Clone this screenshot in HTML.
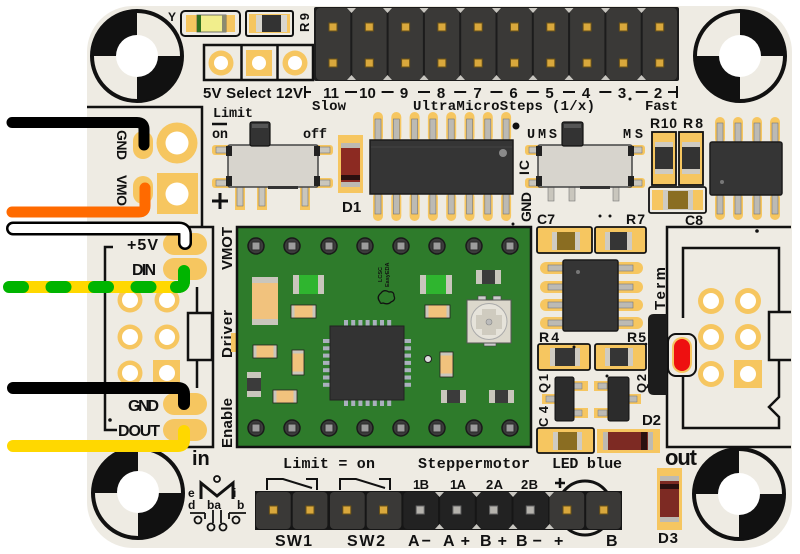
<!DOCTYPE html>
<html><head><meta charset="utf-8">
<style>
html,body{margin:0;padding:0;background:#fff;}
svg{display:block;}
.m{font-family:"Liberation Mono",monospace;font-weight:bold;fill:#111;}
.s{font-family:"Liberation Sans",sans-serif;font-weight:bold;fill:#111;}
</style></head><body>
<svg width="800" height="554" viewBox="0 0 800 554" xmlns="http://www.w3.org/2000/svg">
<rect width="800" height="554" fill="#fff"/>
<rect x="87" y="6" width="705" height="542" rx="46" fill="#eeebe3"/>

<!-- mounting holes -->
<circle cx="137" cy="56" r="45" fill="#eeebe3" stroke="#111" stroke-width="4"/>
<path d="M137 56H92A45 45 0 0 1 137 11Z" fill="#111"/>
<path d="M137 56H182A45 45 0 0 1 137 101Z" fill="#111"/>
<circle cx="137" cy="56" r="21" fill="#fff"/>

<circle cx="740" cy="56" r="45" fill="#eeebe3" stroke="#111" stroke-width="4"/>
<path d="M740 56V11A45 45 0 0 1 785 56Z" fill="#111"/>
<path d="M740 56V101A45 45 0 0 1 695 56Z" fill="#111"/>
<circle cx="740" cy="56" r="21" fill="#fff"/>

<circle cx="138" cy="493" r="45" fill="#eeebe3" stroke="#111" stroke-width="4"/>
<path d="M138 493H93A45 45 0 0 1 138 448Z" fill="#111"/>
<path d="M138 493H183A45 45 0 0 1 138 538Z" fill="#111"/>
<circle cx="138" cy="492" r="21" fill="#fff"/>

<circle cx="739" cy="494" r="45" fill="#eeebe3" stroke="#111" stroke-width="4"/>
<path d="M739 494H694A45 45 0 0 1 739 449Z" fill="#111"/>
<path d="M739 494H784A45 45 0 0 1 739 539Z" fill="#111"/>
<circle cx="739" cy="494" r="21" fill="#fff"/>

<!-- Y LED -->
<text class="s" x="168" y="21" font-size="12">Y</text>
<rect x="181" y="11" width="59" height="25" rx="4" fill="none" stroke="#111" stroke-width="2"/>
<rect x="186" y="15" width="49" height="17" fill="#f6c660"/>
<rect x="197" y="15" width="29" height="17" fill="#f1ee8c" stroke="#555" stroke-width="0.8"/>
<rect x="197" y="15" width="4" height="17" fill="#2f6f1f"/>
<rect x="222" y="15" width="4" height="17" fill="#8a8a70"/>
<!-- R9 -->
<rect x="246" y="11" width="47" height="25" rx="2" fill="none" stroke="#111" stroke-width="2"/>
<rect x="249" y="14" width="41" height="19" fill="#f6c660"/>
<rect x="256" y="15" width="31" height="17" fill="#d9d6ce"/>
<rect x="262" y="15" width="19" height="17" fill="#333"/>
<text class="s" font-size="13" textLength="19" transform="translate(309,32) rotate(-90)">R9</text>

<!-- 5V/12V jumper -->
<rect x="204" y="45" width="109" height="35" fill="none" stroke="#111" stroke-width="2.5"/>
<line x1="241.5" y1="45" x2="241.5" y2="80" stroke="#111" stroke-width="2.5"/>
<line x1="277.5" y1="45" x2="277.5" y2="80" stroke="#111" stroke-width="2.5"/>
<circle cx="221" cy="63" r="12.5" fill="#f6c660"/><circle cx="221" cy="63" r="7" fill="#fff"/>
<rect x="246" y="50" width="26" height="26" fill="#f6c660"/><circle cx="259" cy="63" r="7" fill="#fff"/>
<circle cx="295" cy="63" r="12.5" fill="#f6c660"/><circle cx="295" cy="63" r="7" fill="#fff"/>
<text class="s" x="203" y="98" font-size="15" textLength="100">5V Select 12V</text>

<!-- top header -->
<rect x="314" y="7" width="365" height="74" rx="2" fill="#1c1c1c"/>
<g fill="#3a3937">
<rect x="316" y="8" width="34.3" height="72" rx="4"/>
<rect x="352.3" y="8" width="34.3" height="72" rx="4"/>
<rect x="388.6" y="8" width="34.3" height="72" rx="4"/>
<rect x="424.9" y="8" width="34.3" height="72" rx="4"/>
<rect x="461.2" y="8" width="34.3" height="72" rx="4"/>
<rect x="497.5" y="8" width="34.3" height="72" rx="4"/>
<rect x="533.8" y="8" width="34.3" height="72" rx="4"/>
<rect x="570.1" y="8" width="34.3" height="72" rx="4"/>
<rect x="606.4" y="8" width="34.3" height="72" rx="4"/>
<rect x="642.7" y="8" width="34.3" height="72" rx="4"/>
</g>
<g fill="#c8c6c0">
<path d="M347 8h9l-4.5 5z M383 8h9l-4.5 5z M419.5 8h9l-4.5 5z M456 8h9l-4.5 5z M492 8h9l-4.5 5z M528.5 8h9l-4.5 5z M564.5 8h9l-4.5 5z M601 8h9l-4.5 5z M637 8h9l-4.5 5z"/>
<path d="M347 80h9l-4.5 -5z M383 80h9l-4.5 -5z M419.5 80h9l-4.5 -5z M456 80h9l-4.5 -5z M492 80h9l-4.5 -5z M528.5 80h9l-4.5 -5z M564.5 80h9l-4.5 -5z M601 80h9l-4.5 -5z M637 80h9l-4.5 -5z"/>
</g>
<g fill="#d9a83c" stroke="#6b5217" stroke-width="1">
<rect x="329" y="23" width="8" height="8"/><rect x="329" y="59" width="8" height="8"/>
<rect x="365.3" y="23" width="8" height="8"/><rect x="365.3" y="59" width="8" height="8"/>
<rect x="401.6" y="23" width="8" height="8"/><rect x="401.6" y="59" width="8" height="8"/>
<rect x="437.9" y="23" width="8" height="8"/><rect x="437.9" y="59" width="8" height="8"/>
<rect x="474.2" y="23" width="8" height="8"/><rect x="474.2" y="59" width="8" height="8"/>
<rect x="510.5" y="23" width="8" height="8"/><rect x="510.5" y="59" width="8" height="8"/>
<rect x="546.8" y="23" width="8" height="8"/><rect x="546.8" y="59" width="8" height="8"/>
<rect x="583.1" y="23" width="8" height="8"/><rect x="583.1" y="59" width="8" height="8"/>
<rect x="619.4" y="23" width="8" height="8"/><rect x="619.4" y="59" width="8" height="8"/>
<rect x="655.7" y="23" width="8" height="8"/><rect x="655.7" y="59" width="8" height="8"/>
</g>
<!-- step scale -->
<path d="M305 86V98M305 92H311 M345 92H357 M381.6 92H393.6 M418 92H430 M454.2 92H466.2 M490.5 92H502.5 M526.8 92H538.8 M563 92H575 M599.4 92H611.4 M635.7 92H647.7 M668 92H676M677 86V98" stroke="#111" stroke-width="2" fill="none"/>
<g class="s" font-size="15" text-anchor="middle">
<text x="331" y="98">11</text><text x="367.5" y="98">10</text><text x="404" y="98">9</text>
<text x="441" y="98">8</text><text x="477.5" y="98">7</text><text x="513.5" y="98">6</text>
<text x="549.5" y="98">5</text><text x="586" y="98">4</text><text x="622" y="98">3</text><text x="658" y="98">2</text>
</g>
<circle cx="630" cy="99" r="1.5" fill="#111"/>
<text class="m" x="312" y="110" font-size="14" textLength="34">Slow</text>
<text class="m" x="413" y="110" font-size="14" textLength="182">UltraMicroSteps (1/x)</text>
<text class="m" x="645" y="110" font-size="14" textLength="33">Fast</text>

<!-- left connector boxes -->
<path d="M87 107H202V226" stroke="#111" stroke-width="2.5" fill="none"/>
<path d="M87 227H213V447H87" stroke="#111" stroke-width="2.5" fill="none"/>
<rect x="133" y="131" width="20" height="28" rx="10" fill="#f6c660"/>
<rect x="133" y="176" width="20" height="28" rx="10" fill="#f6c660"/>
<circle cx="177" cy="143" r="20.5" fill="#f6c660"/><circle cx="177" cy="143" r="11.5" fill="#fff"/>
<rect x="157" y="173" width="41" height="41" fill="#f6c660"/><circle cx="177" cy="194" r="11.5" fill="#fff"/>
<text class="s" font-size="14" textLength="30" transform="translate(117,130) rotate(90)">GND</text>
<text class="s" font-size="14" textLength="31" transform="translate(117,175) rotate(90)">VMO</text>

<path d="M113 247H105V430H117" stroke="#111" stroke-width="2.5" fill="none"/>
<circle cx="110" cy="420" r="1.8" fill="#111"/>
<rect x="163" y="233" width="44" height="22" rx="11" fill="#f6c660"/>
<rect x="163" y="258" width="44" height="22" rx="11" fill="#f6c660"/>
<rect x="163" y="393" width="44" height="22" rx="11" fill="#f6c660"/>
<rect x="163" y="419" width="44" height="22" rx="11" fill="#f6c660"/>
<g fill="#f6c660">
<circle cx="130" cy="300" r="12.5"/><circle cx="167" cy="300" r="12.5"/>
<circle cx="130" cy="337" r="12.5"/><circle cx="167" cy="337" r="12.5"/>
<circle cx="130" cy="373" r="12.5"/><rect x="153" y="360" width="27" height="27"/>
</g>
<g fill="#fff">
<circle cx="130" cy="300" r="8"/><circle cx="167" cy="300" r="8"/>
<circle cx="130" cy="337" r="8"/><circle cx="167" cy="337" r="8"/>
<circle cx="130" cy="373" r="8"/><circle cx="167" cy="373" r="8"/>
</g>
<path d="M197 287V313M197 360V388" stroke="#111" stroke-width="2.5"/>
<rect x="188" y="313" width="24" height="47" fill="none" stroke="#111" stroke-width="2.5"/>
<text class="s" x="127" y="250" font-size="16" textLength="31">+5V</text>
<text class="s" x="132" y="275" font-size="16" textLength="24">DIN</text>
<text class="s" x="128" y="411" font-size="16" textLength="31">GND</text>
<text class="s" x="118" y="436" font-size="16" textLength="42">DOUT</text>
<text class="s" x="192" y="465" font-size="20">in</text>
<text class="s" font-size="15" textLength="43" transform="translate(232,270) rotate(-90)">VMOT</text>
<text class="s" font-size="15" textLength="48" transform="translate(232,358) rotate(-90)">Driver</text>
<text class="s" font-size="15" textLength="50" transform="translate(232,448) rotate(-90)">Enable</text>
<rect x="231" y="333" width="5" height="19" fill="#f6c660"/>

<!-- Limit switch -->
<text class="m" x="213" y="117" font-size="13.5" textLength="40">Limit</text>
<line x1="212" y1="124" x2="227" y2="124" stroke="#111" stroke-width="2.5"/>
<text class="m" x="212" y="138" font-size="13.5" textLength="16">on</text>
<text class="m" x="303" y="138" font-size="13.5" textLength="24">off</text>
<path d="M212 201H228M220 193V209" stroke="#111" stroke-width="3"/>
<g fill="#f6c660">
<rect x="212" y="145" width="20" height="10" rx="3"/><rect x="212" y="178" width="20" height="10" rx="3"/>
<rect x="313" y="145" width="20" height="10" rx="3"/><rect x="313" y="178" width="20" height="10" rx="3"/>
<rect x="235" y="185" width="10" height="25"/><rect x="257" y="185" width="10" height="25"/><rect x="300" y="185" width="10" height="25"/>
</g>
<g fill="#c9c6bd" stroke="#777" stroke-width="0.6">
<rect x="237" y="186" width="6" height="20"/><rect x="259" y="186" width="6" height="20"/><rect x="302" y="186" width="6" height="20"/>
<rect x="216" y="147" width="12" height="6"/><rect x="216" y="180" width="12" height="6"/>
<rect x="318" y="147" width="12" height="6"/><rect x="318" y="180" width="12" height="6"/>
</g>
<rect x="228" y="145" width="90" height="42" rx="2" fill="#d7d4cd" stroke="#444" stroke-width="1.5"/>
<rect x="268" y="186" width="30" height="3" fill="#333"/>
<g fill="#222">
<rect x="226" y="146" width="6" height="10"/><rect x="226" y="176" width="6" height="10"/>
<rect x="314" y="146" width="6" height="10"/><rect x="314" y="176" width="6" height="10"/>
</g>
<rect x="250" y="122" width="20" height="24" rx="2" fill="#333" stroke="#111" stroke-width="1.2"/>
<rect x="252" y="124" width="16" height="4" fill="#555"/>

<!-- D1 -->
<rect x="338" y="135" width="25" height="58" fill="#f6c660"/>
<rect x="341" y="143" width="19" height="44" rx="2" fill="#8c2a22"/>
<rect x="341" y="143" width="19" height="5" fill="#bdbab2"/>
<rect x="341" y="182" width="19" height="5" fill="#bdbab2"/>
<rect x="341" y="175" width="19" height="5" fill="#2a1010"/>
<text class="s" x="342" y="212" font-size="15">D1</text>

<!-- IC SOIC-16 -->
<g fill="#f6c660">
<rect x="373" y="112" width="10" height="30" rx="5"/><rect x="391.3" y="112" width="10" height="30" rx="5"/>
<rect x="409.6" y="112" width="10" height="30" rx="5"/><rect x="427.9" y="112" width="10" height="30" rx="5"/>
<rect x="446.2" y="112" width="10" height="30" rx="5"/><rect x="464.5" y="112" width="10" height="30" rx="5"/>
<rect x="482.8" y="112" width="10" height="30" rx="5"/><rect x="501.1" y="112" width="10" height="30" rx="5"/>
<rect x="373" y="192" width="10" height="29" rx="5"/><rect x="391.3" y="192" width="10" height="29" rx="5"/>
<rect x="409.6" y="192" width="10" height="29" rx="5"/><rect x="427.9" y="192" width="10" height="29" rx="5"/>
<rect x="446.2" y="192" width="10" height="29" rx="5"/><rect x="464.5" y="192" width="10" height="29" rx="5"/>
<rect x="482.8" y="192" width="10" height="29" rx="5"/><rect x="501.1" y="192" width="10" height="29" rx="5"/>
</g>
<g fill="#bcbab4" stroke="#777" stroke-width="0.6">
<rect x="375" y="119" width="6" height="21"/><rect x="393.3" y="119" width="6" height="21"/>
<rect x="411.6" y="119" width="6" height="21"/><rect x="429.9" y="119" width="6" height="21"/>
<rect x="448.2" y="119" width="6" height="21"/><rect x="466.5" y="119" width="6" height="21"/>
<rect x="484.8" y="119" width="6" height="21"/><rect x="503.1" y="119" width="6" height="21"/>
<rect x="375" y="194" width="6" height="20"/><rect x="393.3" y="194" width="6" height="20"/>
<rect x="411.6" y="194" width="6" height="20"/><rect x="429.9" y="194" width="6" height="20"/>
<rect x="448.2" y="194" width="6" height="20"/><rect x="466.5" y="194" width="6" height="20"/>
<rect x="484.8" y="194" width="6" height="20"/><rect x="503.1" y="194" width="6" height="20"/>
</g>
<rect x="370" y="140" width="143" height="54" fill="#353535" stroke="#1b1b1b" stroke-width="1.5"/>
<line x1="371" y1="147" x2="512" y2="147" stroke="#444" stroke-width="1"/>
<circle cx="503" cy="153" r="4" fill="#8a8a8a"/>
<circle cx="516" cy="126" r="3.5" fill="#111"/>
<circle cx="513" cy="224" r="1.5" fill="#111"/>
<text class="s" font-size="14" textLength="15" transform="translate(529,175) rotate(-90)">IC</text>
<text class="s" font-size="14" textLength="30" transform="translate(531,222) rotate(-90)">GND</text>

<!-- UMS switch -->
<text class="m" x="527" y="138" font-size="13.5" textLength="30">UMS</text>
<text class="m" x="623" y="138" font-size="13.5" textLength="20">MS</text>
<g fill="#f6c660">
<rect x="525" y="145" width="20" height="10" rx="3"/><rect x="525" y="178" width="20" height="10" rx="3"/>
<rect x="626" y="145" width="19" height="10" rx="3"/><rect x="626" y="178" width="19" height="10" rx="3"/>
</g>
<g fill="#c9c6bd" stroke="#777" stroke-width="0.6">
<rect x="548" y="186" width="6" height="15"/><rect x="569" y="186" width="6" height="15"/><rect x="613" y="186" width="6" height="15"/>
<rect x="529" y="147" width="12" height="6"/><rect x="529" y="180" width="12" height="6"/>
<rect x="630" y="147" width="12" height="6"/><rect x="630" y="180" width="12" height="6"/>
</g>
<rect x="538" y="145" width="94" height="42" rx="2" fill="#d7d4cd" stroke="#444" stroke-width="1.5"/>
<rect x="580" y="186" width="30" height="3" fill="#333"/>
<g fill="#222">
<rect x="536" y="146" width="6" height="10"/><rect x="536" y="176" width="6" height="10"/>
<rect x="628" y="146" width="6" height="10"/><rect x="628" y="176" width="6" height="10"/>
</g>
<rect x="562" y="122" width="21" height="24" rx="2" fill="#333" stroke="#111" stroke-width="1.2"/>
<rect x="564" y="124" width="17" height="4" fill="#555"/>

<!-- R10 R8 C8 -->
<text class="s" x="650" y="128" font-size="14" textLength="27">R10</text>
<text class="s" x="683" y="128" font-size="14" textLength="20">R8</text>
<rect x="652" y="132" width="24" height="53" fill="#f6c660" stroke="#111" stroke-width="1.8"/>
<rect x="679" y="132" width="24" height="53" fill="#f6c660" stroke="#111" stroke-width="1.8"/>
<rect x="655" y="142" width="18" height="32" fill="#cfcbc2"/><rect x="655" y="147" width="18" height="22" fill="#333"/>
<rect x="682" y="142" width="18" height="32" fill="#cfcbc2"/><rect x="682" y="147" width="18" height="22" fill="#333"/>
<rect x="649" y="187" width="57" height="26" rx="2" fill="#eeebe3" stroke="#111" stroke-width="1.8"/>
<rect x="652" y="190" width="51" height="20" fill="#f6c660"/>
<rect x="663" y="190" width="30" height="20" fill="#cfcbc2"/><rect x="668" y="191" width="20" height="18" fill="#8a6d22"/>
<text class="s" x="685" y="225" font-size="14" textLength="18">C8</text>

<!-- right SOIC-8 -->
<g fill="#f6c660">
<rect x="715" y="117" width="10" height="27" rx="5"/><rect x="733" y="117" width="10" height="27" rx="5"/>
<rect x="752" y="117" width="10" height="27" rx="5"/><rect x="770" y="117" width="10" height="27" rx="5"/>
<rect x="715" y="193" width="10" height="27" rx="5"/><rect x="733" y="193" width="10" height="27" rx="5"/>
<rect x="752" y="193" width="10" height="27" rx="5"/><rect x="770" y="193" width="10" height="27" rx="5"/>
</g>
<g fill="#bcbab4" stroke="#777" stroke-width="0.6">
<rect x="717" y="123" width="6" height="19"/><rect x="735" y="123" width="6" height="19"/>
<rect x="754" y="123" width="6" height="19"/><rect x="772" y="123" width="6" height="19"/>
<rect x="717" y="195" width="6" height="19"/><rect x="735" y="195" width="6" height="19"/>
<rect x="754" y="195" width="6" height="19"/><rect x="772" y="195" width="6" height="19"/>
</g>
<rect x="710" y="142" width="72" height="53" rx="2" fill="#353535" stroke="#1b1b1b" stroke-width="1.5"/>
<circle cx="722" cy="182" r="2" fill="#777"/>

<!-- wires -->
<path d="M12 122.5H137Q144 122.5 144 129.5V145" stroke="#000" stroke-width="11" fill="none" stroke-linecap="round"/>
<path d="M12 212H139Q145 212 145 206V188" stroke="#ff6a00" stroke-width="11" fill="none" stroke-linecap="round"/>
<path d="M13 228.5H179Q185 228.5 185 234.5V243" stroke="#000" stroke-width="14" fill="none" stroke-linecap="round"/>
<path d="M13 228.5H179Q185 228.5 185 234.5V243" stroke="#fff" stroke-width="9" fill="none" stroke-linecap="round"/>
<path d="M13 287H178Q184 287 184 281V271" stroke="#ffd800" stroke-width="12" fill="none" stroke-linecap="round"/>
<path d="M9 287H178Q184 287 184 281V271" stroke="#00b400" stroke-width="12" fill="none" stroke-linecap="round" stroke-dasharray="14 28.5"/>
<path d="M176 287H178Q184 287 184 281V271" stroke="#00b400" stroke-width="12" fill="none" stroke-linecap="round"/>
<path d="M13 388H178Q184 388 184 394V404" stroke="#000" stroke-width="12" fill="none" stroke-linecap="round"/>
<path d="M13 446H178Q184 446 184 440V431" stroke="#ffd800" stroke-width="12" fill="none" stroke-linecap="round"/>

<!-- green driver board -->
<rect x="237" y="227" width="294" height="220" fill="#2e7b2b" stroke="#111" stroke-width="2.5"/>
<g>
<g fill="#3c3c3c" stroke="#1a1a1a" stroke-width="1.5">
<circle cx="256" cy="246" r="8"/><circle cx="292" cy="246" r="8"/><circle cx="329" cy="246" r="8"/><circle cx="365" cy="246" r="8"/>
<circle cx="401" cy="246" r="8"/><circle cx="437" cy="246" r="8"/><circle cx="474" cy="246" r="8"/><circle cx="510" cy="246" r="8"/>
<circle cx="256" cy="428" r="8"/><circle cx="292" cy="428" r="8"/><circle cx="329" cy="428" r="8"/><circle cx="365" cy="428" r="8"/>
<circle cx="401" cy="428" r="8"/><circle cx="437" cy="428" r="8"/><circle cx="474" cy="428" r="8"/><circle cx="510" cy="428" r="8"/>
</g>
<g fill="#9c9c9c" stroke="#2a2a2a" stroke-width="1">
<rect x="252" y="242" width="8" height="8"/><rect x="288" y="242" width="8" height="8"/><rect x="325" y="242" width="8" height="8"/><rect x="361" y="242" width="8" height="8"/>
<rect x="397" y="242" width="8" height="8"/><rect x="433" y="242" width="8" height="8"/><rect x="470" y="242" width="8" height="8"/><rect x="506" y="242" width="8" height="8"/>
<rect x="252" y="424" width="8" height="8"/><rect x="288" y="424" width="8" height="8"/><rect x="325" y="424" width="8" height="8"/><rect x="361" y="424" width="8" height="8"/>
<rect x="397" y="424" width="8" height="8"/><rect x="433" y="424" width="8" height="8"/><rect x="470" y="424" width="8" height="8"/><rect x="506" y="424" width="8" height="8"/>
</g>
</g>
<!-- big tan cap -->
<rect x="252" y="277" width="26" height="48" fill="#f1c27d"/>
<rect x="252" y="277" width="26" height="6" fill="#c9c6bc"/><rect x="252" y="319" width="26" height="6" fill="#c9c6bc"/>
<!-- green LEDs -->
<rect x="293" y="275" width="31" height="19" fill="#2fb52f"/>
<rect x="293" y="275" width="6" height="19" fill="#c9c6bc"/><rect x="318" y="275" width="6" height="19" fill="#c9c6bc"/>
<rect x="420" y="275" width="32" height="19" fill="#2fb52f"/>
<rect x="420" y="275" width="6" height="19" fill="#c9c6bc"/><rect x="446" y="275" width="6" height="19" fill="#c9c6bc"/>
<!-- tan small -->
<g fill="#f1c27d" stroke="#222" stroke-width="0.8">
<rect x="291" y="305" width="25" height="13"/><rect x="425" y="305" width="25" height="13"/>
<rect x="253" y="345" width="24" height="13"/><rect x="273" y="390" width="24" height="13"/>
<rect x="292" y="350" width="12" height="25"/><rect x="440" y="352" width="13" height="25"/>
</g>
<g fill="#c9c6bc">
<rect x="291.5" y="305.5" width="3" height="12"/><rect x="312.5" y="305.5" width="3" height="12"/>
<rect x="425.5" y="305.5" width="3" height="12"/><rect x="446.5" y="305.5" width="3" height="12"/>
<rect x="253.5" y="345.5" width="3" height="12"/><rect x="273.5" y="345.5" width="3" height="12"/>
<rect x="273.5" y="390.5" width="3" height="12"/><rect x="293.5" y="390.5" width="3" height="12"/>
<rect x="292.5" y="350.5" width="11" height="3"/><rect x="292.5" y="371.5" width="11" height="3"/>
<rect x="440.5" y="352.5" width="12" height="3"/><rect x="440.5" y="373.5" width="12" height="3"/>
</g>
<!-- black resistors on board -->
<rect x="476" y="270" width="25" height="14" fill="#c9c6bc"/><rect x="482" y="270" width="13" height="14" fill="#3b3b3b"/>
<rect x="441" y="390" width="25" height="13" fill="#c9c6bc"/><rect x="447" y="390" width="13" height="13" fill="#3b3b3b"/>
<rect x="489" y="390" width="25" height="13" fill="#c9c6bc"/><rect x="495" y="390" width="13" height="13" fill="#3b3b3b"/>
<rect x="247" y="372" width="14" height="25" fill="#c9c6bc"/><rect x="247" y="378" width="14" height="13" fill="#3b3b3b"/>
<!-- pot -->
<rect x="478" y="296" width="8" height="5" fill="#ccc" stroke="#444" stroke-width="0.6"/>
<rect x="493" y="296" width="8" height="5" fill="#ccc" stroke="#444" stroke-width="0.6"/>
<rect x="484" y="342" width="12" height="4" fill="#ccc" stroke="#444" stroke-width="0.6"/>
<rect x="467" y="300" width="44" height="43" fill="#dcd8cc" stroke="#555" stroke-width="1"/>
<circle cx="489" cy="321.5" r="18" fill="#e6e3da" stroke="#aaa" stroke-width="1"/>
<rect x="482" y="309" width="14" height="26" fill="#cfcbbf"/>
<rect x="476" y="315" width="26" height="14" fill="#cfcbbf"/>
<circle cx="489" cy="322" r="3" fill="#bbb" stroke="#888" stroke-width="0.6"/>
<!-- QFN -->
<g fill="#aab0bd">
<rect x="344" y="320" width="4" height="7"/><rect x="351.2" y="320" width="4" height="7"/><rect x="358.4" y="320" width="4" height="7"/><rect x="365.6" y="320" width="4" height="7"/>
<rect x="372.8" y="320" width="4" height="7"/><rect x="380" y="320" width="4" height="7"/><rect x="387.2" y="320" width="4" height="7"/>
<rect x="344" y="399" width="4" height="7"/><rect x="351.2" y="399" width="4" height="7"/><rect x="358.4" y="399" width="4" height="7"/><rect x="365.6" y="399" width="4" height="7"/>
<rect x="372.8" y="399" width="4" height="7"/><rect x="380" y="399" width="4" height="7"/><rect x="387.2" y="399" width="4" height="7"/>
<rect x="323" y="339" width="8" height="4"/><rect x="323" y="346.3" width="8" height="4"/><rect x="323" y="353.6" width="8" height="4"/><rect x="323" y="360.9" width="8" height="4"/>
<rect x="323" y="368.2" width="8" height="4"/><rect x="323" y="375.5" width="8" height="4"/><rect x="323" y="382.8" width="8" height="4"/>
<rect x="403" y="339" width="8" height="4"/><rect x="403" y="346.3" width="8" height="4"/><rect x="403" y="353.6" width="8" height="4"/><rect x="403" y="360.9" width="8" height="4"/>
<rect x="403" y="368.2" width="8" height="4"/><rect x="403" y="375.5" width="8" height="4"/><rect x="403" y="382.8" width="8" height="4"/>
</g>
<rect x="330" y="326" width="74" height="74" fill="#333" stroke="#222" stroke-width="1"/>
<circle cx="428" cy="359" r="3.5" fill="#ddd" stroke="#222" stroke-width="1"/>
<text font-family="Liberation Sans,sans-serif" font-size="5.5" font-weight="bold" fill="#111" transform="translate(382,282) rotate(-90)">LCSC</text>
<text font-family="Liberation Sans,sans-serif" font-size="5.5" font-weight="bold" fill="#111" transform="translate(389,287) rotate(-90)">EasyEDA</text>
<path d="M380 302q-4-5 1-9q3-4 8-1q5-1 5 4q2 4-3 6q-3 3-8 1q-3 1-3-1z" fill="none" stroke="#111" stroke-width="1.3"/>

<!-- C7 R7 -->
<text class="s" x="537" y="224" font-size="14" textLength="18">C7</text>
<text class="s" x="626" y="224" font-size="14" textLength="19">R7</text>
<circle cx="600" cy="216" r="1.5" fill="#111"/><circle cx="610" cy="216" r="1.5" fill="#111"/>
<rect x="537" y="227" width="55" height="26" rx="2" fill="#f6c660" stroke="#111" stroke-width="1.8"/>
<rect x="552" y="232" width="28" height="18" fill="#cfcbc2"/><rect x="557" y="232" width="18" height="18" fill="#8a6d22"/>
<rect x="595" y="227" width="51" height="26" rx="2" fill="#f6c660" stroke="#111" stroke-width="1.8"/>
<rect x="605" y="232" width="27" height="18" fill="#cfcbc2"/><rect x="610" y="232" width="17" height="18" fill="#353535"/>

<!-- SOIC-8 middle -->
<g fill="#f6c660">
<rect x="540" y="262" width="28" height="12" rx="6"/><rect x="540" y="281" width="28" height="12" rx="6"/>
<rect x="540" y="299" width="28" height="12" rx="6"/><rect x="540" y="317" width="28" height="12" rx="6"/>
<rect x="613" y="262" width="30" height="12" rx="6"/><rect x="613" y="281" width="30" height="12" rx="6"/>
<rect x="613" y="299" width="30" height="12" rx="6"/><rect x="613" y="317" width="30" height="12" rx="6"/>
</g>
<g fill="#bcbab4" stroke="#777" stroke-width="0.6">
<rect x="548" y="265" width="16" height="6"/><rect x="548" y="284" width="16" height="6"/>
<rect x="548" y="302" width="16" height="6"/><rect x="548" y="320" width="16" height="6"/>
<rect x="617" y="265" width="16" height="6"/><rect x="617" y="284" width="16" height="6"/>
<rect x="617" y="302" width="16" height="6"/><rect x="617" y="320" width="16" height="6"/>
</g>
<rect x="563" y="260" width="55" height="71" rx="2" fill="#353535" stroke="#1b1b1b" stroke-width="1.5"/>
<circle cx="578" cy="272" r="2" fill="#777"/>

<!-- R4 R5 -->
<text class="s" x="539" y="342" font-size="14" textLength="20">R4</text>
<text class="s" x="627" y="342" font-size="14" textLength="19">R5</text>
<circle cx="646" cy="344" r="1.3" fill="#111"/>
<rect x="538" y="344" width="52" height="26" rx="2" fill="#f6c660" stroke="#111" stroke-width="1.8"/>
<rect x="550" y="348" width="30" height="18" fill="#cfcbc2"/><rect x="555" y="348" width="20" height="18" fill="#353535"/>
<circle cx="574" cy="347" r="1.5" fill="#111"/>
<rect x="595" y="344" width="51" height="26" rx="2" fill="#f6c660" stroke="#111" stroke-width="1.8"/>
<rect x="605" y="348" width="28" height="18" fill="#cfcbc2"/><rect x="610" y="348" width="18" height="18" fill="#353535"/>

<!-- Q1 Q2 -->
<g fill="#f6c660">
<rect x="542" y="394" width="13" height="10"/><rect x="573" y="381" width="15" height="10"/><rect x="573" y="408" width="15" height="10"/>
<rect x="594" y="381" width="14" height="10"/><rect x="594" y="408" width="14" height="10"/><rect x="628" y="394" width="13" height="10"/>
</g>
<g fill="#bcbab4" stroke="#777" stroke-width="0.5">
<rect x="546" y="396" width="9" height="6"/><rect x="573" y="383" width="9" height="6"/><rect x="573" y="410" width="9" height="6"/>
<rect x="598" y="383" width="9" height="6"/><rect x="598" y="410" width="9" height="6"/><rect x="628" y="396" width="9" height="6"/>
</g>
<rect x="555" y="377" width="19" height="44" rx="2" fill="#2c2c2c" stroke="#111" stroke-width="1"/>
<rect x="608" y="377" width="21" height="44" rx="2" fill="#2c2c2c" stroke="#111" stroke-width="1"/>
<circle cx="607" cy="376" r="1.5" fill="#111"/>
<text class="s" font-size="13" textLength="19" transform="translate(548,393) rotate(-90)">Q1</text>
<text class="s" font-size="13" textLength="21" transform="translate(548,427) rotate(-90)">C4</text>
<text class="s" font-size="13" textLength="19" transform="translate(646,393) rotate(-90)">Q2</text>

<!-- C4 D2 -->
<rect x="537" y="428" width="57" height="25" rx="2" fill="#f6c660" stroke="#111" stroke-width="1.8"/>
<rect x="553" y="432" width="29" height="18" fill="#cfcbc2"/><rect x="558" y="432" width="19" height="18" fill="#8a6d22"/>
<text class="s" x="642" y="425" font-size="15" textLength="19">D2</text>
<rect x="597" y="429" width="63" height="24" fill="#f6c660"/>
<rect x="603" y="432" width="50" height="18" rx="2" fill="#7d2a23"/>
<rect x="603" y="432" width="5" height="18" fill="#bdbab2"/>
<rect x="641" y="432" width="6" height="18" fill="#2a1010"/>
<rect x="648" y="432" width="5" height="18" fill="#bdbab2"/>

<!-- Term connector -->
<path d="M791 227H667V447H791" fill="none" stroke="#111" stroke-width="2.5"/>
<circle cx="757" cy="231" r="1.8" fill="#111"/>
<path d="M683 318V248H779V312" fill="none" stroke="#111" stroke-width="2.5"/>
<path d="M683 377V428H779V417L769 407L779 397V360" fill="none" stroke="#111" stroke-width="2.5"/>
<path d="M791 312H769V360H791" fill="#eeebe3" stroke="#111" stroke-width="2.5"/>
<path d="M667 314H654Q648 314 648 320V389Q648 395 654 395H667Z" fill="#1c1c1c"/>
<rect x="668" y="334" width="28" height="42" rx="8" fill="#eeebe3" stroke="#111" stroke-width="2"/>
<rect x="672" y="337" width="20" height="36" rx="10" fill="#f6c660"/>
<rect x="674" y="339" width="16" height="32" rx="8" fill="#ee1010"/>
<text class="s" font-size="15" textLength="43" transform="translate(665,310) rotate(-90)">Term</text>
<g fill="#f6c660">
<circle cx="711" cy="301" r="13"/><circle cx="748" cy="301" r="13"/>
<circle cx="711" cy="337" r="13"/><circle cx="748" cy="337" r="13"/>
<circle cx="711" cy="374" r="13"/><rect x="734" y="360" width="28" height="28"/>
</g>
<g fill="#fff">
<circle cx="711" cy="301" r="8"/><circle cx="748" cy="301" r="8"/>
<circle cx="711" cy="337" r="8"/><circle cx="748" cy="337" r="8"/>
<circle cx="711" cy="374" r="8"/><circle cx="748" cy="374" r="8"/>
</g>

<!-- bottom labels -->
<text class="m" x="283" y="468" font-size="15" textLength="92">Limit = on</text>
<text class="m" x="418" y="468" font-size="15" textLength="112">Steppermotor</text>
<text class="m" x="552" y="468" font-size="15" textLength="70">LED blue</text>
<text class="s" x="665" y="465" font-size="22" textLength="32">out</text>

<!-- D3 -->
<rect x="657" y="468" width="25" height="62" fill="#f6c660"/>
<rect x="660" y="476" width="19" height="46" rx="2" fill="#7d2a23"/>
<rect x="660" y="476" width="19" height="5" fill="#bdbab2"/>
<rect x="660" y="484" width="19" height="5" fill="#2a1010"/>
<rect x="660" y="517" width="19" height="5" fill="#bdbab2"/>
<text class="s" x="658" y="543" font-size="15" textLength="20">D3</text>

<!-- logo -->
<g class="s" font-size="12">
<text x="188" y="497">e</text><text x="188" y="509">d</text>
<text x="207" y="509">ba</text><text x="233" y="497">i</text><text x="237" y="509">b</text>
</g>
<circle cx="217" cy="479" r="3" fill="none" stroke="#111" stroke-width="1.8"/>
<path d="M201 499V483L217 496L233 483V499" fill="none" stroke="#111" stroke-width="3"/>
<path d="M190 513H205M229 513H246M205 513V519M213 510V523M221 510V523M229 513V519" fill="none" stroke="#111" stroke-width="1.8"/>
<g fill="none" stroke="#111" stroke-width="1.8">
<circle cx="198" cy="520" r="3.5"/><circle cx="211" cy="527" r="3.5"/><circle cx="223" cy="527" r="3.5"/><circle cx="236" cy="520" r="3.5"/>
</g>

<!-- switch symbols -->
<path d="M267 490V479H283L312 488M306 479H317V490" fill="none" stroke="#111" stroke-width="2"/>
<path d="M340 490V479H356L385 488M379 479H390V490" fill="none" stroke="#111" stroke-width="2"/>
<g class="s" font-size="13">
<text x="413" y="489" textLength="16">1B</text><text x="450" y="489" textLength="16">1A</text>
<text x="486" y="489" textLength="17">2A</text><text x="521" y="489" textLength="17">2B</text>
</g>
<path d="M555 483H565M560 478V488" stroke="#111" stroke-width="2.5"/>
<circle cx="585" cy="508" r="27" fill="none" stroke="#111" stroke-width="3"/>

<!-- bottom header -->
<rect x="255" y="491" width="367" height="39" fill="#161616"/>
<g fill="#3a3937">
<rect x="256" y="492" width="34.7" height="37" rx="4"/><rect x="292.7" y="492" width="34.7" height="37" rx="4"/>
<rect x="330" y="492" width="34.7" height="37" rx="4"/><rect x="366.7" y="492" width="34.7" height="37" rx="4"/>
<rect x="549.5" y="492" width="34.7" height="37" rx="4"/><rect x="586.2" y="492" width="34.7" height="37" rx="4"/>
</g>
<g fill="#222">
<rect x="403.4" y="492" width="34.7" height="37" rx="4"/><rect x="440.1" y="492" width="34.7" height="37" rx="4"/>
<rect x="476.8" y="492" width="34.7" height="37" rx="4"/><rect x="513.5" y="492" width="34.7" height="37" rx="4"/>
</g>
<g fill="#c8c6c0">
<path d="M435 492h9l-4.5 5z M472 492h9l-4.5 5z M508.5 492h9l-4.5 5z M545 492h9l-4.5 5z"/>
<path d="M435 529h9l-4.5 -5z M472 529h9l-4.5 -5z M508.5 529h9l-4.5 -5z M545 529h9l-4.5 -5z"/>
</g>
<g fill="#d9a83c" stroke="#6b5217" stroke-width="1">
<rect x="269.4" y="506" width="8" height="8"/><rect x="306" y="506" width="8" height="8"/>
<rect x="342.8" y="506" width="8" height="8"/><rect x="379.5" y="506" width="8" height="8"/>
<rect x="563" y="506" width="8" height="8"/><rect x="599.7" y="506" width="8" height="8"/>
</g>
<g fill="#b5b3ad" stroke="#666" stroke-width="1">
<rect x="416.2" y="506" width="8" height="8"/><rect x="452.9" y="506" width="8" height="8"/>
<rect x="489.6" y="506" width="8" height="8"/><rect x="526.3" y="506" width="8" height="8"/>
</g>
<g class="s" font-size="16">
<text x="275" y="546" textLength="37">SW1</text><text x="347" y="546" textLength="38">SW2</text>
<text x="408" y="546" textLength="23">A−</text><text x="443" y="546" textLength="27">A+</text>
<text x="480" y="546" textLength="27">B+</text><text x="516" y="546" textLength="26">B−</text>
<text x="554" y="546" textLength="12">+</text><text x="606" y="546" textLength="12">B</text>
</g>
</svg>
</body></html>
